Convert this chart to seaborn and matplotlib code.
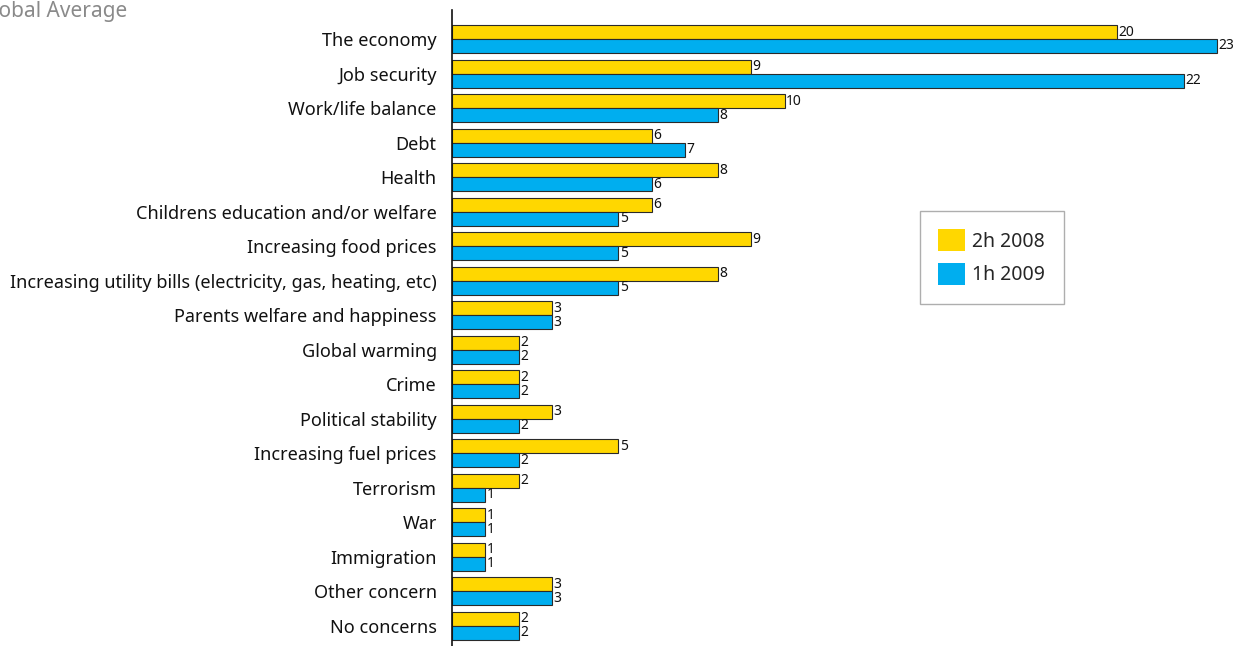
import matplotlib
matplotlib.use("Agg")
import matplotlib.pyplot as plt
import seaborn as sns
import pandas as pd
from matplotlib.patches import Patch

categories = [
    "The economy", "Job security", "Work/life balance", "Debt", "Health",
    "Childrens education and/or welfare", "Increasing food prices",
    "Increasing utility bills (electricity, gas, heating, etc)",
    "Parents welfare and happiness", "Global warming", "Crime",
    "Political stability", "Increasing fuel prices", "Terrorism", "War",
    "Immigration", "Other concern", "No concerns",
]
values_2h2008 = [20, 9, 10, 6, 8, 6, 9, 8, 3, 2, 2, 3, 5, 2, 1, 1, 3, 2]
values_1h2009 = [23, 22, 8, 7, 6, 5, 5, 5, 3, 2, 2, 2, 2, 1, 1, 1, 3, 2]
series_names = ["2h 2008", "1h 2009"]
colors = ["#FFD700", "#00AEEF"]

df = pd.DataFrame({
    "concern": categories * 2,
    "value": values_2h2008 + values_1h2009,
    "period": [series_names[0]] * len(categories) + [series_names[1]] * len(categories),
})

sns.set_style("white")
plt.rcParams["font.family"] = ["Noto Sans", "DejaVu Sans"]

fig = plt.figure(figsize=(12.43, 6.46), dpi=100)
ax = fig.add_axes([452 / 1243, 0.0, 1 - 452 / 1243, 1 - 10 / 646])

sns.barplot(
    data=df, y="concern", x="value", hue="period", orient="h",
    order=categories, hue_order=series_names, palette=colors, saturation=1,
    width=0.81, edgecolor="#2a2a2a", linewidth=0.8, ax=ax, legend=False,
)

unit_px = 33.26
ax.set_xlim(0, (1243 - 452) / unit_px)
ax.set_ylim(17.58, -0.84)

for container in ax.containers:
    ax.bar_label(container, labels=[f"{int(v)}" for v in container.datavalues],
                 padding=1, fontsize=10, color="#111111", clip_on=False)

for side in ["top", "right", "bottom"]:
    ax.spines[side].set_visible(False)
ax.spines["left"].set_color("#111111")
ax.spines["left"].set_linewidth(1.2)
ax.set_xticks([])
ax.set_xlabel("")
ax.set_ylabel("")
ax.tick_params(axis="y", length=0, pad=11, labelsize=13, labelcolor="#111111")

handles = [Patch(facecolor=c, edgecolor="none", label=n) for c, n in zip(colors, series_names)]
leg = ax.legend(handles=handles, loc="upper left",
                bbox_to_anchor=((920 - 452) / (1243 - 452), 1 - (211 - 10) / (646 - 10)),
                borderaxespad=0, frameon=True, fancybox=False, fontsize=14,
                handlelength=1.34, handleheight=1.34, borderpad=0.95,
                labelspacing=0.57, handletextpad=0.41)
leg.get_frame().set_edgecolor("#9a9a9a")
leg.get_frame().set_linewidth(1.0)

fig.text(-0.018, 0.998, "Global Average", ha="left", va="top",
         fontsize=15, color="#8a8a8a")

fig.savefig("out.png", dpi=100)
